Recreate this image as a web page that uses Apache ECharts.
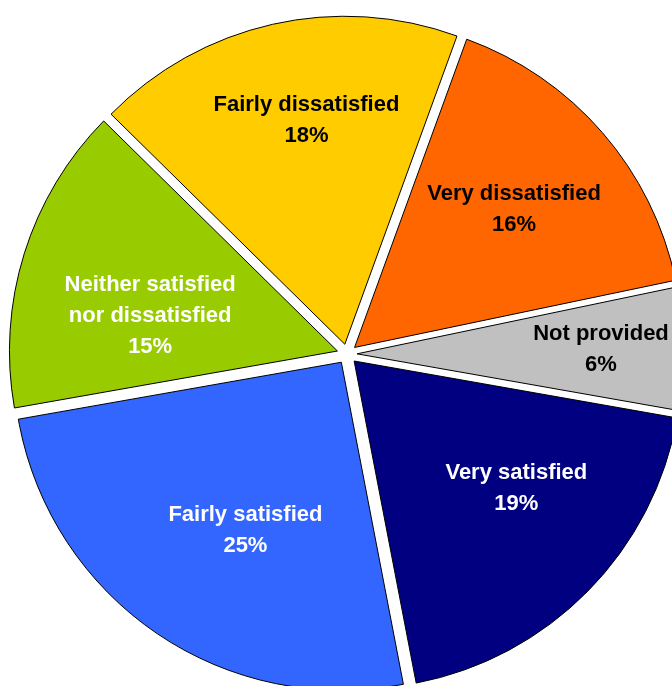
<!DOCTYPE html>
<html>
<head>
<meta charset="utf-8">
<style>
  html, body { margin: 0; padding: 0; background: #ffffff; }
  #chart { width: 672px; height: 686px; }
</style>
<script src="https://cdn.jsdelivr.net/npm/echarts@6/dist/echarts.min.js"></script>
</head>
<body>
<div id="chart"></div>
<script>
// Satisfaction survey responses, in clockwise drawing order
const categories = [
  'Very satisfied',
  'Fairly satisfied',
  'Neither satisfied\nnor dissatisfied',
  'Fairly dissatisfied',
  'Very dissatisfied',
  'Not provided'
];
const shares = [19, 25, 15, 18, 16, 6];
const sliceColors = ['#000080', '#3366FF', '#99CC00', '#FFCC00', '#FF6600', '#C0C0C0'];
const labelColors = ['#ffffff', '#ffffff', '#ffffff', '#000000', '#000000', '#000000'];
// Small per-label nudges (px) away from the ring midline so each text sits well inside its slice
const labelNudge = [[9, -23], [26, -9], [18, 29], [9, -14], [-3, 3], [29, -1]];

const chart = echarts.init(document.getElementById('chart'), null, { renderer: 'canvas' });

const center = [347, 354];
const startAngle = 350;

// Exploded slices with thin dark outlines
const slices = categories.map((name, i) => ({
  name: name,
  value: shares[i],
  selected: true,
  itemStyle: { color: sliceColors[i] }
}));

// Transparent ring whose midline carries the slice labels
const labelRing = categories.map((name, i) => ({
  name: name,
  value: shares[i],
  itemStyle: { color: 'rgba(0,0,0,0)' },
  label: { color: labelColors[i] }
}));

chart.setOption({
  animation: false,
  series: [
    {
      type: 'pie',
      center: center,
      radius: [0, 328],
      startAngle: startAngle,
      clockwise: true,
      selectedMode: 'multiple',
      selectedOffset: 10,
      avoidLabelOverlap: false,
      label: { show: false },
      labelLine: { show: false },
      itemStyle: { borderColor: '#000000', borderWidth: 1 },
      emphasis: { disabled: true },
      select: { itemStyle: { borderColor: '#000000', borderWidth: 1 } },
      data: slices
    },
    {
      type: 'pie',
      center: center,
      radius: [164, 280],
      startAngle: startAngle,
      clockwise: true,
      silent: true,
      avoidLabelOverlap: false,
      labelLine: { show: false },
      label: {
        show: true,
        position: 'inside',
        fontFamily: 'Liberation Sans, Arial, sans-serif',
        fontWeight: 'bold',
        fontSize: 22,
        lineHeight: 31,
        align: 'center',
        formatter: (p) => p.name + '\n' + p.value + '%'
      },
      labelLayout: (params) => ({
        dx: labelNudge[params.dataIndex][0],
        dy: labelNudge[params.dataIndex][1]
      }),
      emphasis: { disabled: true },
      data: labelRing
    }
  ]
});
</script>
</body>
</html>
